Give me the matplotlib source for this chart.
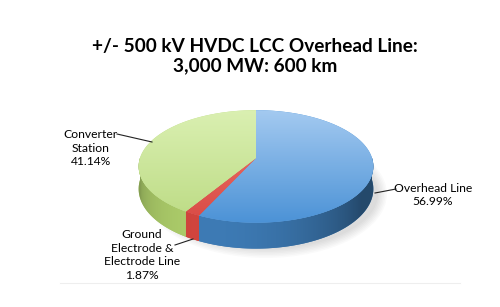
import numpy as np
import matplotlib
matplotlib.use("Agg")
import matplotlib.pyplot as plt
from matplotlib.patches import Polygon, Ellipse
from matplotlib.colors import to_rgb

title = "+/- 500 kV HVDC LCC Overhead Line:\n3,000 MW: 600 km"
labels = ["Overhead Line", "Ground\nElectrode &\nElectrode Line", "Converter\nStation"]
shares = [56.99, 1.87, 41.14]
top_light = ["#a9cdf2", "#f07a72", "#dcf1b4"]
top_dark = ["#4b92d6", "#d94a44", "#bcdb84"]
side_col = ["#3b76ae", "#c9423b", "#a6c566"]

# tilted pie with a little perspective, in pixels
cx, cy, a, b, depth, persp = 256, 158, 116, 55, 22, 0.15


def rim(t, drop=0.0):
    s = 1.0 / (1.0 + persp * np.sin(t))
    return cx + a * np.cos(t) * s, cy - b * np.sin(t) * s + drop * s


fig = plt.figure(figsize=(5, 3.07), dpi=100)
ax = fig.add_axes([0, 0, 1, 1])
ax.set_xlim(0, 500)
ax.set_ylim(307, 0)
ax.axis("off")

# soft shadow
for k in range(7):
    ax.add_patch(Ellipse((cx + 10, cy + depth + 14), 2 * a + 10 - 3 * k, 2 * b + 18 - 3 * k,
                         color="#000000", alpha=0.02, lw=0, zorder=1))

# faint plot-area line
ax.plot([60, 460], [283, 283], color="#eeeeee", lw=0.8, zorder=0)

frac = np.array(shares) / sum(shares)
edges = np.pi / 2 - 2 * np.pi * np.concatenate([[0], np.cumsum(frac)])

light_dir = np.radians(-115)
xg = np.linspace(cx - a * 1.03, cx + a * 1.03, 300)
tg = -np.arccos(np.clip((xg - cx) / a, -1, 1))
shade = 0.62 + 0.42 * np.clip(np.cos(tg - light_dir), 0, None)

for i in range(len(shares)):
    t0, t1 = edges[i], edges[i + 1]   # t0 > t1, clockwise
    # side wall, visible on the front half
    for lo_b, hi_b in [(-np.pi, 0), (-3 * np.pi, -2 * np.pi)]:
        hi = min(t0, hi_b)
        lo = max(t1, lo_b)
        if hi <= lo:
            continue
        ts = np.linspace(hi, lo, 120)
        xt, yt = rim(ts)
        xb, yb = rim(ts[::-1], depth)
        side = Polygon(np.column_stack([np.r_[xt, xb], np.r_[yt, yb]]), closed=True,
                       fc=side_col[i], ec="none", zorder=2)
        ax.add_patch(side)
        base = np.array(to_rgb(side_col[i]))
        img = np.clip(base[None, :] * shade[:, None], 0, 1)[None, :, :]
        im = ax.imshow(img, extent=(xg[0], xg[-1], cy + b * 2 + depth * 2, cy - b * 2),
                       aspect="auto", interpolation="bilinear", zorder=2)
        im.set_clip_path(side)

    # top face with vertical gradient
    ts = np.linspace(t0, t1, 200)
    xs, ys = rim(ts)
    poly = Polygon(np.column_stack([np.r_[cx, xs], np.r_[cy, ys]]), closed=True,
                   fc=top_dark[i], ec="none", zorder=3)
    ax.add_patch(poly)
    c1 = np.array(to_rgb(top_light[i]))
    c2 = np.array(to_rgb(top_dark[i]))
    g = np.linspace(0, 1, 100)[:, None]
    img = (c1 * (1 - g) + c2 * g)[:, None, :]
    im = ax.imshow(img, extent=(cx - a * 1.1, cx + a * 1.1, cy + b * 1.2, cy - b),
                   aspect="auto", interpolation="bilinear", zorder=3)
    im.set_clip_path(poly)

# title
ax.text(255, 56, title, ha="center", va="center", fontsize=13.7,
        fontweight="bold", family="Lato", linespacing=1.2)

# labels and leader lines
lab_fs = 8.7
ax.text(91, 148, labels[2] + "\n41.14%", ha="center", va="center", fontsize=lab_fs,
        family="Lato", linespacing=1.3, zorder=5)
ax.plot([117, 152], [134, 142], color="#222222", lw=0.8, zorder=5)

ax.text(433, 195, labels[0] + "\n56.99%", ha="center", va="center", fontsize=lab_fs,
        family="Lato", linespacing=1.3, zorder=5)
ax.plot([375, 396], [193, 189], color="#222222", lw=0.8, zorder=5)

ax.text(142, 255, labels[1] + "\n1.87%", ha="center", va="center", fontsize=lab_fs,
        family="Lato", linespacing=1.3, zorder=5)
ax.plot([175, 193], [245, 239], color="#222222", lw=0.8, zorder=5)

fig.savefig("out.png", dpi=100)
